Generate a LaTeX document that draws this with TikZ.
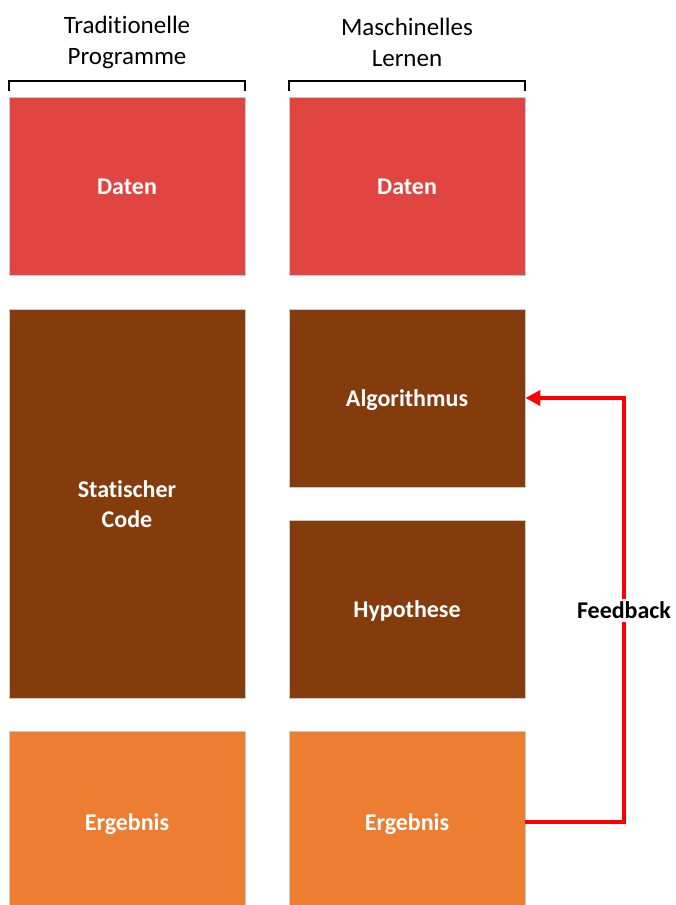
\documentclass[tikz,border=0pt]{standalone}
\usepackage{fontspec}
\setmainfont{Carlito}[Ligatures={NoCommon}]
\usetikzlibrary{arrows.meta}
\definecolor{datared}{HTML}{E04541}
\definecolor{codebrown}{HTML}{843C0C}
\definecolor{resorange}{HTML}{ED7D31}
\definecolor{edgegray}{HTML}{C8C8C8}
% box text, drawn slightly below the geometric centre without changing the node size
\newcommand\blocktext[1]{\raisebox{-2.5pt}[\height][\depth]{\begin{tabular}{@{}c@{}}#1\end{tabular}}}
\tikzset{
  block/.style={draw=edgegray, line width=0.8pt, inner sep=0pt, text=white,
    font=\fontsize{24}{30}\selectfont\bfseries},
  header/.style={font=\fontsize{25}{31}\selectfont, align=center, text=black},
  bracket/.style={line width=1.6pt, black},
  feedback/.style={red, line width=3.5pt, -{Triangle[length=15pt,width=15pt]}}
}
\begin{document}
\begin{tikzpicture}[x=1pt,y=-1pt]
  \clip (0,0) rectangle (675,905);
  \useasboundingbox (0,0) rectangle (675,905);

  % column headers
  \node[header] (hleft) at (127,42.5) {Traditionelle\\Programme};
  \node[header] (hright) at (407,42.5) {Maschinelles\\Lernen};
  \draw[bracket] (9,91) -- (9,81) -- (245,81) -- (245,91);
  \draw[bracket] (289,91) -- (289,81) -- (525,81) -- (525,91);

  % traditional programs
  \node[block, fill=datared, minimum width=236pt, minimum height=178pt] (d1) at (127,186) {\blocktext{Daten}};
  \node[block, fill=codebrown, minimum width=236pt, minimum height=389pt] (c1) at (127,503.5) {\blocktext{Statischer\\Code}};
  \node[block, fill=resorange, minimum width=236pt, minimum height=182pt] (e1) at (127,822) {\blocktext{Ergebnis}};

  % machine learning
  \node[block, fill=datared, minimum width=236pt, minimum height=178pt] (d2) at (407,186) {\blocktext{Daten}};
  \node[block, fill=codebrown, minimum width=236pt, minimum height=178pt] (a2) at (407,398) {\blocktext{Algorithmus}};
  \node[block, fill=codebrown, minimum width=236pt, minimum height=178pt] (h2) at (407,609) {\blocktext{Hypothese}};
  \node[block, fill=resorange, minimum width=236pt, minimum height=182pt] (e2) at (407,822) {\blocktext{Ergebnis}};

  % feedback loop
  \coordinate (fb) at (624,610);
  \draw[feedback] (e2.east) -| (fb) |- (a2.east);
  \node[fill=white, inner sep=3pt, font=\fontsize{24}{28}\selectfont\bfseries] (fblabel) at (fb) {Feedback};
\end{tikzpicture}
\end{document}
